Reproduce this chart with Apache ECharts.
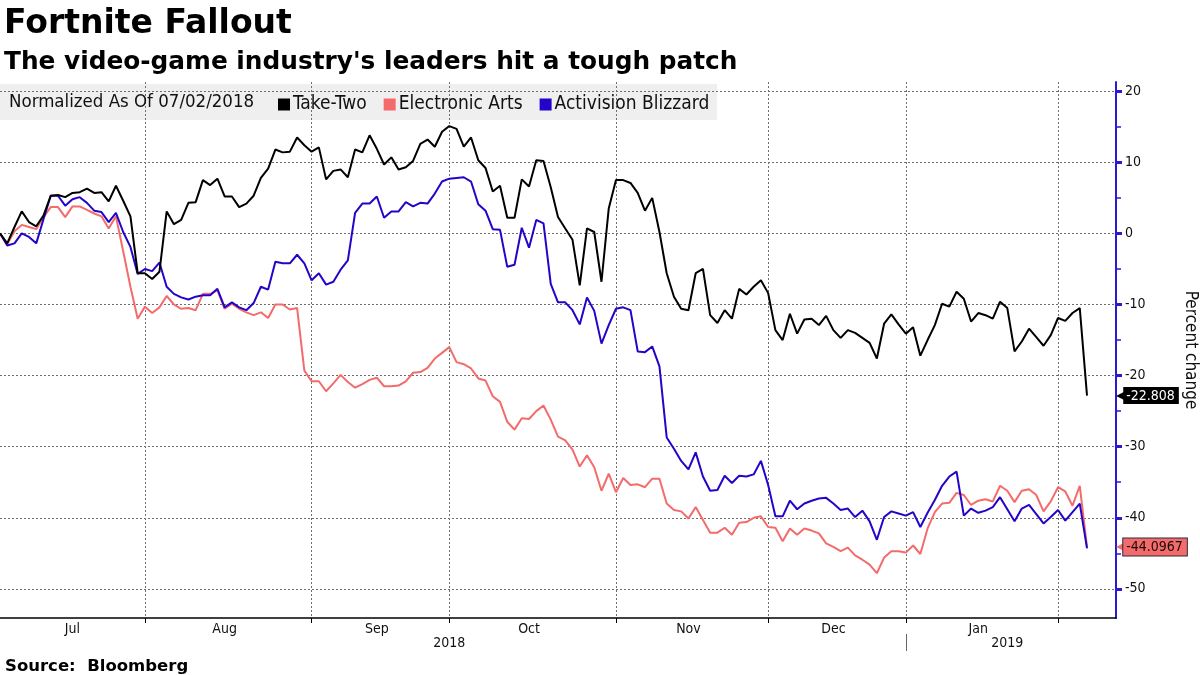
<!DOCTYPE html>
<html>
<head>
<meta charset="utf-8">
<script src="https://cdn.jsdelivr.net/npm/echarts@6/dist/echarts.min.js"></script>
<style>
  html, body { margin: 0; padding: 0; background: #ffffff; }
  #chart { width: 1200px; height: 675px; }
</style>
</head>
<body>
<div id="chart"></div>
<script>
// ---- Data ----
const startDate = '2018-07-02';
const endDate = '2019-02-12';   // axis extends a few sessions past the last value
const holidays = ['2018-07-04', '2018-09-03', '2018-11-22', '2018-12-05', '2018-12-25', '2019-01-01', '2019-01-21'];
const monthNames = ['Jan','Feb','Mar','Apr','May','Jun','Jul','Aug','Sep','Oct','Nov','Dec'];
const seriesNames = ['Take-Two', 'Electronic Arts', 'Activision Blizzard'];
const yMajorValues = [-50, -40, -30, -20, -10, 0, 10, 20];
const yMinorValues = [-45, -35, -25, -15, -5, 5, 15];

const takeTwo = [
  0, -1.4, 0.9, 3.1, 1.6, 1.0, 2.5, 5.3, 5.4, 5.1,
  5.7, 5.8, 6.3, 5.7, 5.8, 4.5, 6.7, 4.6, 2.4, -5.6,
  -5.6, -6.4, -5.4, 3.1, 1.3, 1.9, 4.3, 4.4, 7.5, 6.8,
  7.7, 5.2, 5.2, 3.7, 4.2, 5.3, 7.8, 9.1, 11.8, 11.4,
  11.5, 13.5, 12.4, 11.5, 12.1, 7.6, 8.8, 9.0, 7.9, 11.8,
  11.4, 13.8, 11.9, 9.7, 10.7, 9.0, 9.3, 10.2, 12.6, 13.2,
  12.2, 14.3, 15.1, 14.7, 12.2, 13.5, 10.3, 9.2, 5.9, 6.7,
  2.2, 2.2, 7.6, 6.6, 10.3, 10.2, 6.5, 2.3, 0.7, -0.9,
  -7.3, 0.7, 0.2, -6.8, 3.5, 7.5, 7.5, 7.1, 5.7, 3.2,
  5.0, 0.2, -5.6, -8.9, -10.6, -10.8, -5.6, -5.0, -11.5, -12.6,
  -10.8, -12.0, -7.8, -8.6, -7.5, -6.6, -8.4, -13.6, -15.0, -11.3,
  -14.1, -12.1, -12.0, -12.9, -11.6, -13.6, -14.7, -13.6, -14.0, -14.7,
  -15.4, -17.6, -12.7, -11.4, -12.8, -14.1, -13.2, -17.2, -15.0, -12.9,
  -9.9, -10.3, -8.2, -9.2, -12.4, -11.2, -11.5, -12.0, -9.6, -10.5,
  -16.6, -15.2, -13.4, -14.6, -15.8, -14.3, -11.9, -12.3, -11.2, -10.5,
  -22.808
];
const electronicArts = [
  0, -1.5, 0.3, 1.2, 0.9, 0.6, 2.3, 3.7, 3.7, 2.3,
  3.8, 3.8, 3.3, 2.8, 2.4, 0.7, 2.4, -2.5, -7.5, -12.0,
  -10.3, -11.2, -10.4, -8.8, -10.0, -10.6, -10.5, -10.8, -8.5, -8.5,
  -8.0, -10.6, -9.9, -10.6, -11.1, -11.5, -11.1, -11.9, -10.0, -10.0,
  -10.7, -10.5, -19.3, -20.8, -20.8, -22.2, -21.1, -19.9, -20.9, -21.7,
  -21.2, -20.6, -20.3, -21.5, -21.5, -21.4, -20.8, -19.6, -19.5, -18.9,
  -17.6, -16.8, -16.0, -18.1, -18.4, -19.0, -20.4, -20.7, -22.9, -23.7,
  -26.5, -27.6, -26.0, -26.1, -25.0, -24.2, -26.2, -28.6, -29.1, -30.4,
  -32.8, -31.2, -32.9, -36.2, -33.8, -36.4, -34.4, -35.4, -35.3, -35.7,
  -34.5, -34.5, -38.0, -38.9, -39.1, -40.1, -38.5, -40.3, -42.1, -42.1,
  -41.4, -42.4, -40.7, -40.6, -40.0, -39.8, -41.3, -41.4, -43.3, -41.5,
  -42.4, -41.5, -41.8, -42.2, -43.6, -44.1, -44.7, -44.2, -45.3, -45.9,
  -46.6, -47.8, -45.6, -44.7, -44.7, -44.9, -43.9, -45.1, -41.5, -39.2,
  -38.0, -37.9, -36.5, -36.8, -38.2, -37.6, -37.4, -37.7, -35.5, -36.2,
  -37.8, -36.2, -36.0, -36.8, -39.1, -37.7, -35.7, -36.3, -38.3, -35.5,
  -44.0967
];
const activision = [
  0, -1.7, -1.4, 0.0, -0.5, -1.4, 2.0, 5.3, 5.3, 3.9,
  4.8, 5.1, 4.3, 3.2, 3.0, 1.6, 2.9, 0.2, -1.9, -5.7,
  -5.0, -5.3, -4.1, -7.5, -8.5, -9.0, -9.3, -8.9, -8.7, -8.7,
  -7.8, -10.4, -9.7, -10.4, -10.8, -9.8, -7.5, -7.9, -4.0, -4.2,
  -4.2, -3.0, -4.2, -6.6, -5.6, -7.2, -6.8, -5.1, -3.8, 2.9,
  4.2, 4.2, 5.2, 2.2, 3.1, 3.1, 4.4, 3.8, 4.3, 4.2,
  5.6, 7.3, 7.7, 7.8, 7.9, 7.3, 4.1, 3.2, 0.6, 0.5,
  -4.7, -4.4, 0.8, -2.0, 1.9, 1.4, -7.1, -9.7, -9.7, -10.8,
  -12.8, -9.0, -10.9, -15.5, -12.9, -10.6, -10.4, -10.8, -16.6, -16.7,
  -15.9, -18.7, -28.7, -30.3, -32.0, -33.2, -30.8, -34.2, -36.2, -36.1,
  -34.1, -35.1, -34.1, -34.2, -33.9, -32.0, -35.4, -39.8, -39.8, -37.6,
  -38.8, -38.0, -37.6, -37.3, -37.2, -38.0, -38.9, -38.7, -39.9, -39.0,
  -40.5, -43.1, -39.9, -39.1, -39.4, -39.7, -39.2, -41.3, -39.3, -37.5,
  -35.5, -34.2, -33.5, -39.7, -38.7, -39.3, -39.0, -38.5, -37.1, -38.8,
  -40.5, -38.7, -38.2, -39.5, -40.8, -39.9, -38.9, -40.4, -39.2, -38.0,
  -44.3
];

// ---- Trading-day categories ----
function tradingDays(start, end, skip) {
  const out = [];
  const d = new Date(start + 'T00:00:00Z');
  const e = new Date(end + 'T00:00:00Z');
  while (d <= e) {
    const wd = d.getUTCDay();
    const s = d.toISOString().slice(0, 10);
    if (wd !== 0 && wd !== 6 && skip.indexOf(s) < 0) out.push(s);
    d.setUTCDate(d.getUTCDate() + 1);
  }
  return out;
}
const dates = tradingDays(startDate, endDate, holidays);

// month-end indices (last session of each complete month)
const monthEnds = [];
for (let i = 0; i < dates.length - 1; i++) {
  if (dates[i].slice(0, 7) !== dates[i + 1].slice(0, 7)) monthEnds.push(i);
}
const monthLabelIdx = {};
monthEnds.forEach((e, k) => {
  const prev = k === 0 ? 0 : monthEnds[k - 1];
  monthLabelIdx[Math.floor((prev + e) / 2)] = true;
});
// year separators and year label positions
const yearBreaks = [];
for (let i = 0; i < dates.length - 1; i++) {
  if (dates[i].slice(0, 4) !== dates[i + 1].slice(0, 4)) yearBreaks.push(i);
}
const yearLabelIdx = {};
{
  const bounds = [0].concat(yearBreaks).concat([dates.length - 1]);
  for (let k = 0; k < bounds.length - 1; k++) {
    yearLabelIdx[Math.round((bounds[k] + bounds[k + 1]) / 2) - 1] = true;
  }
}

const COLORS = { tt: '#000000', ea: '#f46b6b', atvi: '#2205c8', axis: '#2a1ad6' };
const LABEL_FONT = "'DejaVu Sans Condensed', 'DejaVu Sans', sans-serif";
const TITLE_FONT = "'DejaVu Sans', sans-serif";
const gridDash = { color: '#6e6e6e', type: [2, 2], width: 1 };
const Y_MIN = -54.1, Y_MAX = 21.3;

const chart = echarts.init(document.getElementById('chart'), null, { renderer: 'canvas' });

function endLabel(bg, fg, arrowColor, border) {
  return {
    show: true,
    distance: 0,
    offset: [29, 0],
    formatter: p => '{a|\u25C0}{b|' + p.value + '}',
    rich: {
      a: { color: arrowColor, fontSize: 12, fontFamily: 'DejaVu Sans', padding: [0, -2, 0, 0] },
      b: {
        color: fg, backgroundColor: bg, fontSize: 14, fontFamily: LABEL_FONT,
        padding: [2, 4, 1, 3], borderColor: border, borderWidth: border ? 1 : 0
      }
    }
  };
}

const option = {
  animation: false,
  backgroundColor: '#ffffff',
  title: [
    { text: 'Fortnite Fallout', left: -1, top: 3,
      textStyle: { fontFamily: TITLE_FONT, fontWeight: 'bold', fontSize: 33, color: '#000' } },
    { text: "The video-game industry's leaders hit a tough patch", left: -1, top: 45,
      textStyle: { fontFamily: TITLE_FONT, fontWeight: 'bold', fontSize: 24.8, color: '#000' } },
    { text: 'Source:  Bloomberg', left: 0, top: 653,
      textStyle: { fontFamily: TITLE_FONT, fontWeight: 'bold', fontSize: 16.5, color: '#000' } }
  ],
  graphic: [
    { type: 'rect', z: -1, shape: { x: 0, y: 84, width: 717, height: 36 }, style: { fill: '#efefef' } },
    { type: 'text', z: 10, x: 9, y: 102,
      style: { text: 'Normalized As Of 07/02/2018', fill: '#111', font: "18.5px " + LABEL_FONT, verticalAlign: 'middle' } }
  ],
  legend: {
    left: 273, top: 90, itemWidth: 12, itemHeight: 12, itemGap: 17, icon: 'rect',
    textStyle: { fontFamily: LABEL_FONT, fontSize: 19, color: '#111', padding: [0, 0, 0, -2] },
    data: seriesNames
  },
  grid: { left: 0, right: 84, top: 82, bottom: 57, containLabel: false, outerBoundsMode: 'none' },
  xAxis: [
    {
      type: 'category', data: dates, boundaryGap: false,
      axisLine: { show: true, onZero: false, lineStyle: { color: '#000', width: 1.5 } },
      axisTick: { show: true, length: 5, interval: i => monthEnds.indexOf(i) >= 0, lineStyle: { color: '#000' } },
      axisLabel: {
        interval: i => !!monthLabelIdx[i], margin: 4, fontFamily: LABEL_FONT, fontSize: 14, color: '#111',
        formatter: v => monthNames[parseInt(v.slice(5, 7), 10) - 1]
      },
      splitLine: { show: true, interval: i => monthEnds.indexOf(i) >= 0, lineStyle: gridDash }
    },
    {
      type: 'category', data: dates, boundaryGap: false, position: 'bottom', offset: 16,
      axisLine: { show: false, onZero: false },
      axisTick: { show: true, length: 17, interval: i => yearBreaks.indexOf(i) >= 0, lineStyle: { color: '#666' } },
      axisLabel: {
        interval: i => !!yearLabelIdx[i], margin: 2, fontFamily: LABEL_FONT, fontSize: 14, color: '#111',
        formatter: v => v.slice(0, 4)
      },
      splitLine: { show: false }
    }
  ],
  yAxis: [
    {
      type: 'value', position: 'right', min: Y_MIN, max: Y_MAX,
      name: 'Percent change', nameLocation: 'middle', nameRotate: -90, nameGap: 66,
      nameTextStyle: { fontFamily: LABEL_FONT, fontSize: 17, color: '#111' },
      axisLine: { show: true, onZero: false, lineStyle: { color: COLORS.axis, width: 2 } },
      axisTick: { show: true, length: 6, customValues: yMajorValues, lineStyle: { color: COLORS.axis, width: 3 } },
      axisLabel: { customValues: yMajorValues, margin: 9, fontFamily: LABEL_FONT, fontSize: 14, color: '#111' },
      splitLine: { show: true, lineStyle: gridDash }
    },
    {
      type: 'value', position: 'right', min: Y_MIN, max: Y_MAX,
      axisLine: { show: false },
      axisTick: { show: true, length: 5, customValues: yMinorValues, lineStyle: { color: COLORS.axis, width: 1.5 } },
      axisLabel: { show: false },
      splitLine: { show: false }
    }
  ],
  series: [
    { name: seriesNames[0], type: 'line', data: takeTwo, showSymbol: false, symbol: 'none', z: 4,
      color: COLORS.tt, lineStyle: { width: 2, color: COLORS.tt },
      endLabel: endLabel('#000', '#fff', '#000', null) },
    { name: seriesNames[1], type: 'line', data: electronicArts, showSymbol: false, symbol: 'none', z: 2,
      color: COLORS.ea, lineStyle: { width: 2, color: COLORS.ea },
      endLabel: endLabel(COLORS.ea, '#1a0a0a', COLORS.ea, '#2a2a40') },
    { name: seriesNames[2], type: 'line', data: activision, showSymbol: false, symbol: 'none', z: 3,
      color: COLORS.atvi, lineStyle: { width: 2, color: COLORS.atvi } }
  ]
};
chart.setOption(option);
</script>
</body>
</html>
